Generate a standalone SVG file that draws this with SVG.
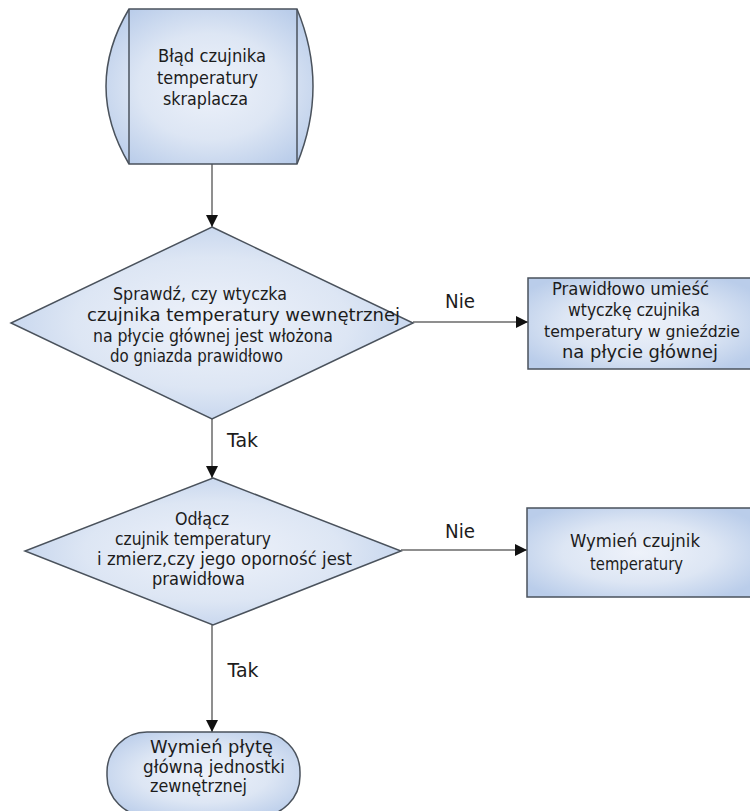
<svg xmlns="http://www.w3.org/2000/svg" width="750" height="811" viewBox="0 0 750 811">
  <defs>
    <radialGradient id="fillBlue" cx="0.5" cy="0.5" r="0.62">
      <stop offset="0" stop-color="#eef2fa"/>
      <stop offset="0.55" stop-color="#dde6f4"/>
      <stop offset="1" stop-color="#bacdea"/>
    </radialGradient>
    <marker id="arrow" viewBox="0 0 12 12" refX="12" refY="6" markerWidth="12" markerHeight="12" markerUnits="userSpaceOnUse" orient="auto">
      <path d="M0,0 L12,6 L0,12 Z" fill="#111"/>
    </marker>
  </defs>
  <style>
    .shape { fill: url(#fillBlue); stroke: #4a525c; stroke-width: 1.5; }
    .inner { fill: none; stroke: #4a525c; stroke-width: 1.5; }
    .conn { fill: none; stroke: #8f8f8f; stroke-width: 2; marker-end: url(#arrow); }
    text { font-family: "DejaVu Sans", Verdana, sans-serif; font-size: 17.5px; fill: #1c1c1c; text-anchor: middle; }
    .lbl { font-size: 19px; }
    .tight { font-size: 15.5px; }
  </style>
  <rect width="750" height="811" fill="#fff"/>

  <g id="connectors">
    <line class="conn" x1="212" y1="164" x2="212" y2="227"/>
    <line class="conn" x1="212" y1="419" x2="212" y2="478"/>
    <line class="conn" x1="413" y1="322" x2="528" y2="322"/>
    <line class="conn" x1="401" y1="550" x2="527" y2="550"/>
    <line class="conn" x1="212" y1="625" x2="212" y2="732"/>
    <text class="lbl" x="460" y="308" textLength="30" lengthAdjust="spacingAndGlyphs">Nie</text>
    <text class="lbl" x="460" y="538" textLength="30" lengthAdjust="spacingAndGlyphs">Nie</text>
    <text class="lbl" x="242.5" y="447" textLength="31" lengthAdjust="spacingAndGlyphs">Tak</text>
    <text class="lbl" x="243" y="677" textLength="31" lengthAdjust="spacingAndGlyphs">Tak</text>
  </g>

  <g id="start">
    <path class="shape" d="M129,9 L297,9 Q329,86 297,164 L129,164 Q83,86 129,9 Z"/>
    <line class="inner" x1="129" y1="9" x2="129" y2="164"/>
    <line class="inner" x1="297" y1="9" x2="297" y2="164"/>
    <text x="212" y="62" textLength="108" lengthAdjust="spacingAndGlyphs">Błąd czujnika</text>
    <text x="207.5" y="84" textLength="101" lengthAdjust="spacingAndGlyphs">temperatury</text>
    <text x="205.5" y="105" textLength="85" lengthAdjust="spacingAndGlyphs">skraplacza</text>
  </g>

  <g id="check-plug">
    <polygon class="shape" points="212,227 413,323 212,419 11,323"/>
    <text x="200" y="300" textLength="174" lengthAdjust="spacingAndGlyphs">Sprawdź, czy wtyczka</text>
    <text x="243.5" y="321" textLength="313" lengthAdjust="spacingAndGlyphs">czujnika temperatury wewnętrznej</text>
    <text x="213" y="342" textLength="240" lengthAdjust="spacingAndGlyphs">na płycie głównej jest włożona</text>
    <text x="196.5" y="362" textLength="173" lengthAdjust="spacingAndGlyphs">do gniazda prawidłowo</text>
  </g>

  <g id="fix-plug">
    <rect class="shape" x="528" y="278" width="223" height="91"/>
    <text x="630.5" y="295" textLength="157" lengthAdjust="spacingAndGlyphs">Prawidłowo umieść</text>
    <text x="634" y="316" textLength="132" lengthAdjust="spacingAndGlyphs">wtyczkę czujnika</text>
    <text class="tight" x="642" y="337" textLength="196" lengthAdjust="spacingAndGlyphs">temperatury w gnieździe</text>
    <text x="640" y="358" textLength="156" lengthAdjust="spacingAndGlyphs">na płycie głównej</text>
  </g>

  <g id="check-sensor">
    <polygon class="shape" points="213,478 401,551 213,625 25,551"/>
    <text x="202" y="525" textLength="54" lengthAdjust="spacingAndGlyphs">Odłącz</text>
    <text x="193" y="545" textLength="156" lengthAdjust="spacingAndGlyphs">czujnik temperatury</text>
    <text x="224.5" y="565" textLength="255" lengthAdjust="spacingAndGlyphs">i zmierz,czy jego oporność jest</text>
    <text x="198.5" y="585" textLength="93" lengthAdjust="spacingAndGlyphs">prawidłowa</text>
  </g>

  <g id="replace-sensor">
    <rect class="shape" x="527" y="508" width="224" height="89"/>
    <text x="635" y="547" textLength="130" lengthAdjust="spacingAndGlyphs">Wymień czujnik</text>
    <text x="636.5" y="570" textLength="93" lengthAdjust="spacingAndGlyphs">temperatury</text>
  </g>

  <g id="replace-board">
    <rect class="shape" x="107" y="732" width="193" height="84" rx="40" ry="40"/>
    <text x="211.5" y="753" textLength="123" lengthAdjust="spacingAndGlyphs">Wymień płytę</text>
    <text x="214" y="773" textLength="142" lengthAdjust="spacingAndGlyphs">główną jednostki</text>
    <text x="198.5" y="792" textLength="97" lengthAdjust="spacingAndGlyphs">zewnętrznej</text>
  </g>
</svg>
